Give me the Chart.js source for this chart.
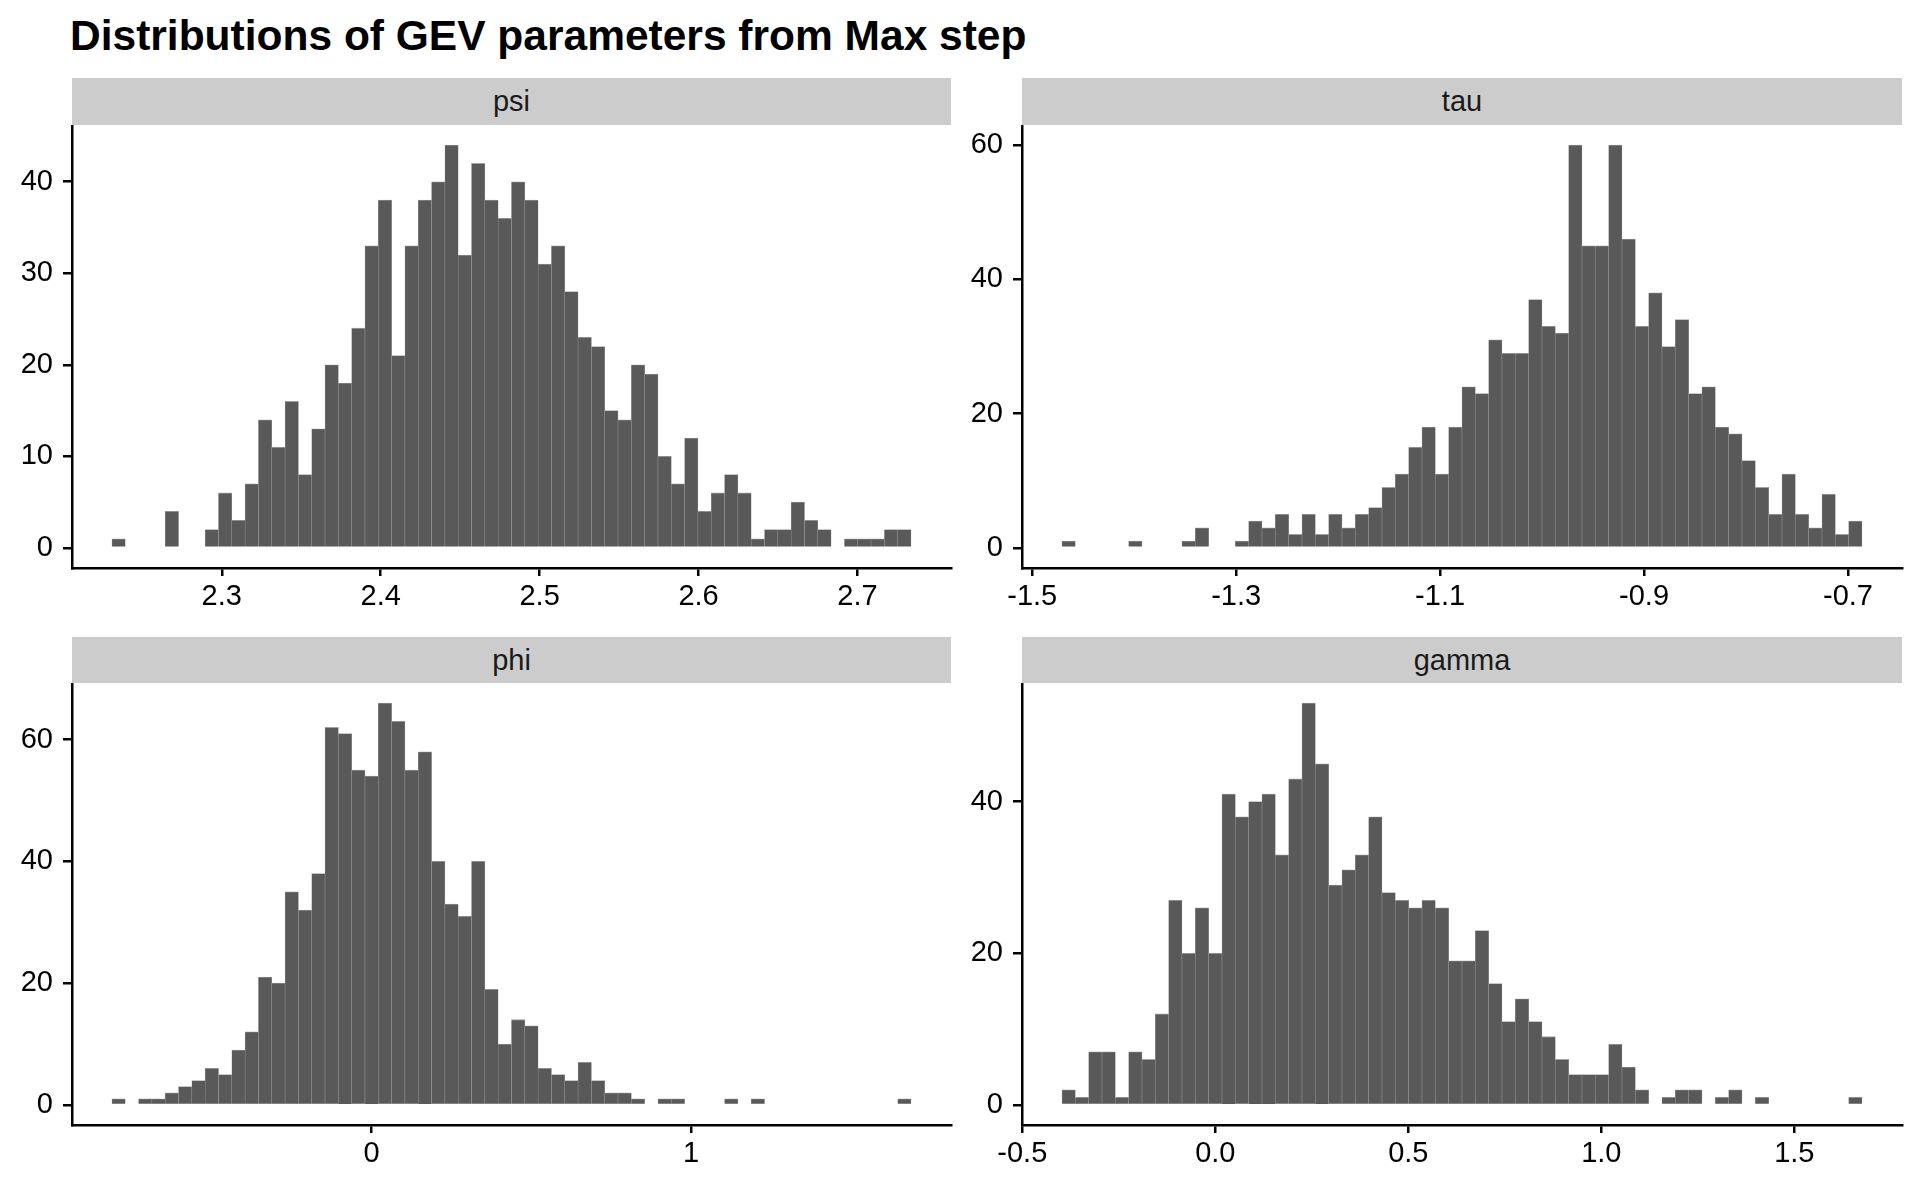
<!DOCTYPE html>
<html><head><meta charset="utf-8">
<script src="https://cdn.jsdelivr.net/npm/chart.js@4.4.0/dist/chart.umd.min.js"></script>
<style>
body{margin:0;background:#fff;width:1920px;height:1192px;position:relative;overflow:hidden;font-family:"Liberation Sans",Arial,Helvetica,sans-serif;}
#title{position:absolute;left:70px;top:15px;font-size:42.5px;font-weight:bold;line-height:1;color:#000;white-space:nowrap;}
.strip{position:absolute;background:#cccccc;color:#1a1a1a;font-size:29px;display:flex;align-items:center;justify-content:center;}
canvas{position:absolute;}
</style></head><body>
<div id="title">Distributions of GEV parameters from Max step</div>
<div class="strip" style="left:72px;top:78px;width:879px;height:47px;">psi</div>
<div class="strip" style="left:1022px;top:78px;width:880px;height:47px;">tau</div>
<div class="strip" style="left:72px;top:637px;width:879px;height:46px;">phi</div>
<div class="strip" style="left:1022px;top:637px;width:880px;height:46px;">gamma</div>
<canvas id="c_psi"></canvas>
<canvas id="c_tau"></canvas>
<canvas id="c_phi"></canvas>
<canvas id="c_gamma"></canvas>
<script>
// ---- data (histogram counts, 60 bins each) ----
const panelNames = ["psi", "tau", "phi", "gamma"];
const psiCounts = [1,0,0,0,4,0,0,2,6,3, 7,14,11,16,8,13,20,18,24,33, 38,21,33,38,40,44,32,42,38,36, 40,38,31,33,28,23,22,15,14,20, 19,10,7,12,4,6,8,6,1,2, 2,5,3,2,0,1,1,1,2,2];
const tauCounts = [1,0,0,0,0,1,0,0,0,1, 3,0,0,1,4,3,5,2,5,2, 5,3,5,6,9,11,15,18,11,18, 24,23,31,29,29,37,33,32,60,45, 45,60,46,33,38,30,34,23,24,18, 17,13,9,5,11,5,3,8,2,4];
const phiCounts = [1,0,1,1,2,3,4,6,5,9, 12,21,20,35,32,38,62,61,55,54, 66,63,55,58,40,33,31,40,19,10, 14,13,6,5,4,7,4,2,2,1, 0,1,1,0,0,0,1,0,1,0, 0,0,0,0,0,0,0,0,0,1];
const gammaCounts = [2,1,7,7,1,7,6,12,27,20, 26,20,41,38,40,41,33,43,53,45, 29,31,33,38,28,27,26,27,26,19, 19,23,16,11,14,11,9,6,4,4, 4,8,5,2,0,1,2,2,0,1, 2,0,1,0,0,0,0,0,0,1];
// bin range [first edge, last edge]
const psiBinRange = [2.2309, 2.7337];
const tauBinRange = [-1.4708, -0.68626];
const phiBinRange = [-0.8132, 1.6892];
const gammaBinRange = [-0.3972, 1.6754];
// tick values and labels
const psiXTicks = [2.3, 2.4, 2.5, 2.6, 2.7];
const psiXLabels = ["2.3", "2.4", "2.5", "2.6", "2.7"];
const psiYTicks = [0, 10, 20, 30, 40];
const tauXTicks = [-1.5, -1.3, -1.1, -0.9, -0.7];
const tauXLabels = ["-1.5", "-1.3", "-1.1", "-0.9", "-0.7"];
const tauYTicks = [0, 20, 40, 60];
const phiXTicks = [0, 1];
const phiXLabels = ["0", "1"];
const phiYTicks = [0, 20, 40, 60];
const gammaXTicks = [-0.5, 0, 0.5, 1.0, 1.5];
const gammaXLabels = ["-0.5", "0.0", "0.5", "1.0", "1.5"];
const gammaYTicks = [0, 20, 40];

const FONT = '"Liberation Sans", Arial, Helvetica, sans-serif';
const AXW = 2.5;

function expand(lo, hi, f) { const d = (hi - lo) * f; return [lo - d, hi + d]; }

function makePanel(id, box, counts, binRange, xTicks, xLabels, yTicks) {
  const cv = document.getElementById(id);
  cv.width = box.w; cv.height = box.h;
  cv.style.left = box.x + 'px'; cv.style.top = box.y + 'px';
  const n = counts.length;
  const bw = (binRange[1] - binRange[0]) / n;
  const pts = counts.map((c, i) => ({ x: binRange[0] + (i + 0.5) * bw, y: c === 0 ? null : c }));
  const xr = expand(binRange[0], binRange[1], 0.05);
  const ymax = Math.max(...counts);
  const yr = expand(0, ymax, 0.05);
  new Chart(cv, {
    type: 'bar',
    data: { datasets: [{
      data: pts,
      backgroundColor: '#595959',
      borderColor: '#a0a0a0',
      borderWidth: { top: 0.8, left: 0.5, right: 0.5, bottom: 0 },
      borderSkipped: false,
      barPercentage: 1.0,
      categoryPercentage: 1.0,
      grouped: false
    }]},
    options: {
      responsive: false,
      animation: false,
      devicePixelRatio: 1,
      layout: { padding: { left: 0, right: box.pr, top: 0, bottom: 0 } },
      plugins: { legend: { display: false }, tooltip: { enabled: false } },
      scales: {
        x: {
          type: 'linear', min: xr[0], max: xr[1], offset: false,
          afterBuildTicks: (s) => { s.ticks = xTicks.map(v => ({ value: v })); },
          afterFit: (s) => { s.height = 60; s.paddingLeft = 0; s.paddingRight = 0; },
          ticks: { color: '#000', font: { family: FONT, size: 29 }, padding: 4, maxRotation: 0, autoSkip: false,
                   callback: (v, i) => xLabels[i] },
          grid: { offset: false, drawOnChartArea: false, drawTicks: true, tickLength: 8, color: '#000', lineWidth: AXW },
          border: { display: true, color: '#000', width: AXW }
        },
        y: {
          type: 'linear', min: yr[0], max: yr[1],
          afterBuildTicks: (s) => { s.ticks = yTicks.map(v => ({ value: v })); },
          afterFit: (s) => { s.width = 72; s.paddingTop = 0; s.paddingBottom = 0; },
          ticks: { color: '#000', font: { family: FONT, size: 29 }, padding: 10, autoSkip: false,
                   callback: (v) => String(v) },
          grid: { offset: false, drawOnChartArea: false, drawTicks: true, tickLength: 9, color: '#000', lineWidth: AXW },
          border: { display: true, color: '#000', width: AXW }
        }
      }
    }
  });
}

makePanel('c_psi',   { x: 0,   y: 125, w: 960, h: 503, pr: 9 },  psiCounts,   psiBinRange,   psiXTicks,   psiXLabels,   psiYTicks);
makePanel('c_tau',   { x: 950, y: 125, w: 970, h: 503, pr: 18 }, tauCounts,   tauBinRange,   tauXTicks,   tauXLabels,   tauYTicks);
makePanel('c_phi',   { x: 0,   y: 683, w: 960, h: 502, pr: 9 },  phiCounts,   phiBinRange,   phiXTicks,   phiXLabels,   phiYTicks);
makePanel('c_gamma', { x: 950, y: 683, w: 970, h: 502, pr: 18 }, gammaCounts, gammaBinRange, gammaXTicks, gammaXLabels, gammaYTicks);
</script>
</body></html>
